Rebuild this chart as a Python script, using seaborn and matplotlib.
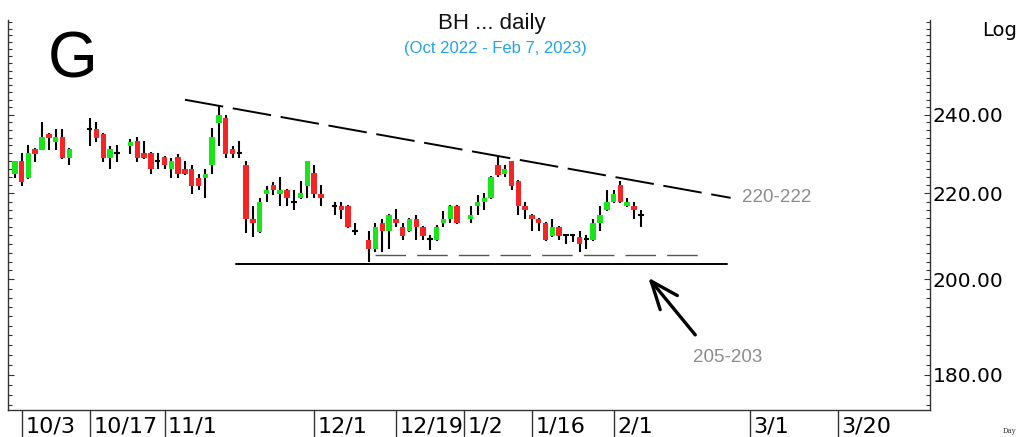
import pandas as pd
import matplotlib
matplotlib.use("Agg")
import matplotlib.pyplot as plt
import matplotlib.ticker as mticker
import matplotlib.transforms as mtransforms
import seaborn as sns

# Global style
sns.set_style("white")
plt.rcParams['font.family'] = ['DejaVu Sans']

# Trading-day index (0 = Oct 3, 2022, weekdays)
day_idx = [-1, 0, 1, 2, 3, 4, 5, 6, 7, 10, 11, 12, 13, 14, 16, 17, 18, 19, 20, 21,
           22, 23, 24, 25, 26, 27, 28, 29, 30, 31, 32, 33, 34, 35, 36, 37, 38, 39, 40, 41,
           42, 43, 44, 46, 47, 48, 49, 51, 52, 53, 54, 55, 56, 57, 58, 59, 60, 61, 62, 63,
           64, 66, 67, 68, 69, 70, 71, 72, 73, 74, 75, 76, 77, 78, 79, 80, 81, 82, 83, 84,
           85, 86, 87, 88, 89, 90, 91]
opens = [224.8, 227.9, 223.8, 231.0, 230.9, 235.0, 232.9, 234.1, 228.8, 236.3,
         236.3, 235.0, 228.8, 230.0, 231.8, 233.0, 230.0, 230.0, 227.9, 229.0,
         225.9, 229.0, 225.9, 225.9, 223.8, 223.8, 226.9, 237.8, 239.1, 231.1,
         230.0, 227.1, 213.9, 210.7, 219.8, 222.0, 219.8, 220.8, 218.0, 218.8,
         221.8, 225.1, 219.8, 216.9, 216.9, 216.9, 211.0, 208.9, 206.9, 213.0,
         210.9, 213.9, 211.9, 210.9, 213.9, 211.9, 209.1, 208.9, 212.8, 213.9,
         216.9, 213.8, 216.9, 217.9, 218.9, 227.1, 224.8, 227.9, 223.0, 216.9,
         214.9, 213.9, 213.0, 209.8, 211.9, 210.0, 210.0, 209.7, 209.1, 208.9,
         212.8, 215.9, 217.9, 222.0, 216.9, 216.9, 214.8]
highs = [228.0, 230.0, 232.0, 231.3, 238.1, 235.2, 236.3, 236.3, 231.3, 239.1,
         238.1, 235.2, 231.8, 232.0, 233.5, 234.1, 233.0, 230.2, 230.0, 229.2,
         228.8, 229.7, 227.9, 226.9, 224.8, 225.9, 236.5, 242.2, 239.8, 231.8,
         233.0, 227.9, 216.9, 218.9, 221.9, 222.7, 224.0, 221.0, 220.8, 223.0,
         228.1, 227.1, 222.0, 218.0, 218.0, 217.1, 213.0, 211.0, 213.0, 213.8,
         215.1, 216.1, 213.0, 214.1, 214.7, 212.1, 210.0, 212.5, 215.7, 217.1,
         217.1, 216.9, 219.7, 220.1, 224.2, 229.2, 227.1, 228.1, 223.2, 218.0,
         215.1, 214.1, 213.2, 213.9, 212.1, 210.1, 210.1, 211.0, 210.0, 213.9,
         216.9, 220.8, 220.8, 223.0, 218.9, 217.9, 215.9]
lows = [223.8, 221.8, 223.6, 227.8, 230.7, 230.9, 230.9, 228.6, 226.9, 231.8,
        232.9, 227.8, 225.9, 227.8, 229.8, 227.8, 228.6, 224.8, 225.9, 225.9,
        223.8, 223.8, 224.6, 219.8, 220.9, 218.9, 224.8, 231.8, 228.8, 228.8,
        228.8, 210.6, 209.7, 210.5, 217.9, 219.7, 216.9, 216.9, 215.9, 218.6,
        218.8, 218.8, 216.9, 214.9, 213.9, 211.7, 210.0, 203.9, 206.1, 206.1,
        206.9, 211.9, 208.9, 210.7, 208.9, 208.9, 206.7, 208.7, 211.9, 213.0,
        212.6, 212.8, 214.9, 215.9, 218.7, 224.0, 224.0, 220.9, 214.8, 213.8,
        210.9, 210.9, 208.7, 209.6, 208.9, 207.9, 208.5, 206.1, 206.8, 208.7,
        210.9, 215.7, 217.7, 217.7, 216.7, 213.9, 211.9]
closes = [227.9, 222.8, 230.0, 229.7, 234.1, 233.9, 234.1, 228.8, 231.1, 236.3,
          233.9, 228.8, 231.1, 230.0, 232.9, 228.8, 228.8, 225.9, 227.9, 226.9,
          227.9, 224.8, 224.8, 221.8, 221.8, 224.8, 234.1, 239.8, 229.7, 229.7,
          230.0, 213.8, 212.8, 218.0, 220.8, 220.9, 220.8, 218.8, 218.0, 220.1,
          227.9, 219.8, 218.8, 216.9, 215.9, 211.9, 211.0, 206.9, 211.9, 210.9,
          214.9, 213.0, 209.8, 213.9, 211.9, 209.8, 209.1, 211.9, 213.9, 216.9,
          212.8, 214.9, 217.9, 218.9, 224.0, 224.6, 226.1, 221.8, 216.9, 215.9,
          213.9, 212.8, 208.9, 211.9, 209.8, 210.0, 210.0, 207.9, 209.1, 212.8,
          214.9, 217.9, 219.9, 217.9, 217.9, 215.9, 214.8]

# x-axis date markers
tick_days = [0, 10, 21, 43, 55, 65, 75, 87, 107, 120]
tick_labels = ['10/3', '10/17', '11/1', '12/1', '12/19', '1/2', '1/16', '2/1', '3/1', '3/20']

# price axis
price_ticks = [180, 200, 220, 240]

# annotation lines (day index, price)
resist_days = [24.0, 104.2]
resist_prices = [244.0, 218.9]
support_days = [31.5, 103.7]
support_prices = [203.5, 203.5]
inner_days = [52.0, 99.7]
inner_prices = [205.4, 205.4]
arrow_tail = (99.0, 188.1)
arrow_head = (92.1, 200.4)

df = pd.DataFrame({'day': day_idx, 'open': opens, 'high': highs,
                   'low': lows, 'close': closes})
up = df[df['close'] > df['open']]
down = df[df['close'] < df['open']]
flat = df[df['close'] == df['open']]

W, H = 1019, 437
fig = plt.figure(figsize=(W / 100, H / 100), dpi=100)
ax = fig.add_axes([8 / W, 27 / H, 922 / W, 390 / H])

green = '#19e619'
red = '#f52525'
bw = 0.8

# wicks
ax.vlines(df['day'], df['low'], df['high'], color='black', lw=1.5, zorder=2)
# bodies
ax.bar(up['day'], up['close'] - up['open'], bottom=up['open'], width=bw,
       color=green, edgecolor='none', zorder=3)
ax.bar(down['day'], down['open'] - down['close'], bottom=down['close'], width=bw,
       color=red, edgecolor='none', zorder=3)
ax.hlines(flat['open'], flat['day'] - bw / 2, flat['day'] + bw / 2,
          color='black', lw=1.5, zorder=3)

# trend lines
ax.plot(resist_days, resist_prices, color='black', lw=1.4, dashes=(20, 5))
ax.plot(support_days, support_prices, color='black', lw=1.4)
ax.plot(inner_days, inner_prices, color='#555555', lw=1.0, dashes=(22, 8))

ax.annotate('', xy=arrow_head, xytext=arrow_tail,
            arrowprops=dict(arrowstyle='->,head_length=1.0,head_width=0.4',
                            mutation_scale=20, lw=2.4, color='black',
                            shrinkA=0, shrinkB=0))

# scales
ax.set_yscale('log')
ax.set_ylim(173.1, 266.5)
ax.set_xlim(-2.0, 133.5)

ax.yaxis.set_major_locator(mticker.FixedLocator(price_ticks))
ax.yaxis.set_major_formatter(mticker.FormatStrFormatter('%.2f'))
ax.yaxis.set_minor_locator(mticker.FixedLocator(list(range(174, 268, 2))))
ax.yaxis.set_minor_formatter(mticker.NullFormatter())
ax.tick_params(axis='y', which='both', left=True, right=True, labelleft=False,
               labelright=True, direction='in', color='#333333', width=0.8,
               pad=2, labelsize=14.5, labelcolor='black')
ax.tick_params(axis='y', which='major', length=4)
ax.tick_params(axis='y', which='minor', length=3)

ax.set_xticks(tick_days)
ax.set_xticklabels([''] * len(tick_days))
ax.xaxis.set_minor_locator(mticker.NullLocator())
ax.tick_params(axis='x', which='major', bottom=True, direction='out', length=20,
               width=1, color='#333333')
shift = mtransforms.ScaledTranslation(0.035, 0, fig.dpi_scale_trans)
for d, lab in zip(tick_days, tick_labels):
    ax.text(d, -0.016, lab, transform=ax.get_xaxis_transform() + shift,
            ha='left', va='top', fontsize=16, color='black')

for side in ['left', 'right', 'bottom']:
    ax.spines[side].set_visible(True)
    ax.spines[side].set_color('#333333')
    ax.spines[side].set_linewidth(1.0)
ax.spines['top'].set_visible(False)

# texts
arial = ['Liberation Sans', 'DejaVu Sans']
fig.text(492 / W, 1 - 23 / H, 'BH ... daily', ha='center', va='center',
         fontsize=16, family=arial, color='#111111')
fig.text(495 / W, 1 - 48 / H, '(Oct 2022 - Feb 7, 2023)', ha='center', va='center',
         fontsize=12, family=arial, color='#21a3e5')
fig.text(73 / W, 1 - 60 / H, 'G', ha='center', va='center', fontsize=46,
         family=arial, color='black')
fig.text(982 / W, 1 - 31 / H, 'Log', ha='left', va='center', fontsize=14,
         color='black')
fig.text(777 / W, 1 - 198 / H, '220-222', ha='center', va='center', fontsize=13.5,
         family=arial, color='#8c8c8c')
fig.text(728 / W, 1 - 357 / H, '205-203', ha='center', va='center', fontsize=13.5,
         family=arial, color='#8c8c8c')
fig.text(1003 / W, 1 - 431 / H, 'Day', ha='left', va='center', fontsize=5,
         family=['DejaVu Serif'], color='#333333')

fig.savefig('out.png', dpi=100)
